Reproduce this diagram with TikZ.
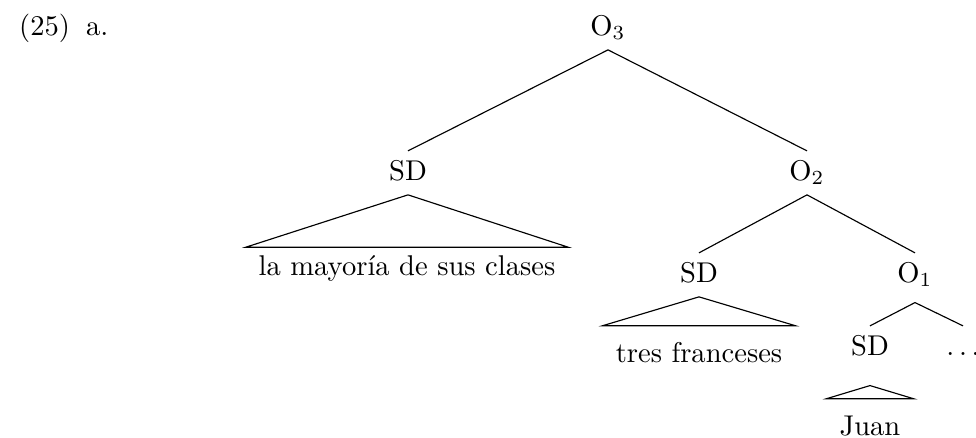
\documentclass[tikz,border=0pt]{standalone}
\usepackage{fontspec}
\usepackage{tikz}
\usetikzlibrary{calc}
\tikzset{
   cat/.style={anchor=base, inner sep=3pt, text height=7pt, text depth=2pt},
   leaf/.style={anchor=base, inner xsep=4.4pt, inner ysep=#1, text height=7pt, text depth=2pt},
   leaf/.default=5.5pt,
   roof/.style={draw, line join=miter}
}

\begin{document}
\begin{tikzpicture}[x=0.35pt,y=-0.35pt]
  \useasboundingbox (0,0) rectangle (976,438);
  \node[cat, anchor=base west] (ex) at (10,35) {(25)};
  \node[cat, anchor=base west] (subex) at (77,35) {a.};
  \node[cat] (o3) at (608,35) {O$_3$};
  \node[cat] (sd1) at (408,180) {SD};
  \node[cat] (o2) at (807,180) {O$_2$};
  \node[cat] (sd2) at (699,282) {SD};
  \node[cat] (o1) at (915,282) {O$_1$};
  \node[cat] (sd3) at (870,355) {SD};
  \node[cat] (dots) at (963,355) {$\ldots$};
  \node[leaf=2.5pt] (la) at (407,275) {la mayoría de sus clases};
  \node[leaf] (tres) at (699,362) {tres franceses};
  \node[leaf] (juan) at (870,435) {Juan};
  \path (o3.south) edge (sd1.north) edge (o2.north)
        (o2.south) edge (sd2.north) edge (o1.north)
        ([yshift=-2pt]o1.south) edge (sd3.north) edge (dots.north);
  \path[roof] (sd1.south) -- (la.north west) -- (la.north east) -- cycle;
  \path[roof] (sd2.south) -- (tres.north west) -- (tres.north east) -- cycle;
  \path[roof] ([yshift=-5.5pt]sd3.south) -- (juan.north west) -- (juan.north east) -- cycle;
\end{tikzpicture}
\end{document}
